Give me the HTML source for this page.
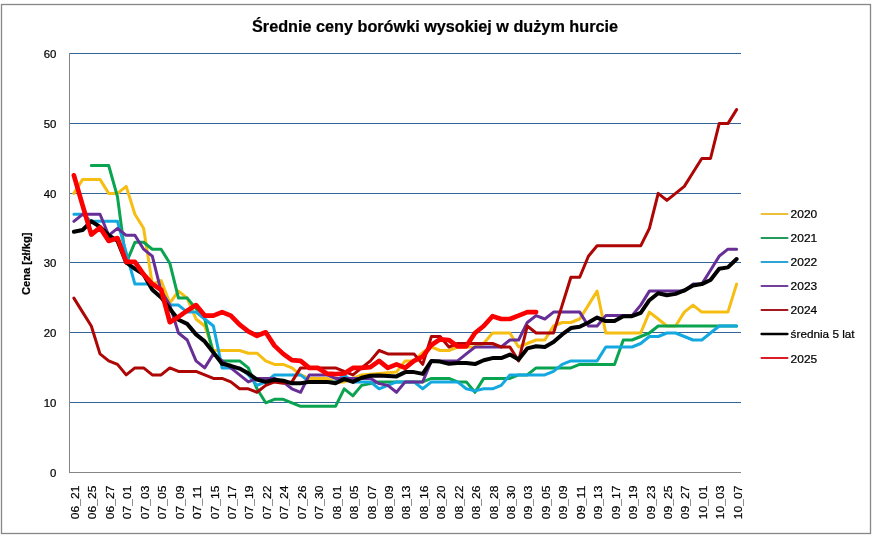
<!DOCTYPE html>
<html lang="pl"><head><meta charset="utf-8"><title>Średnie ceny borówki wysokiej w dużym hurcie</title>
<style>html,body{margin:0;padding:0;background:#fff}svg{display:block}text{font-family:"Liberation Sans", sans-serif;fill:#000;stroke:#000;stroke-width:0.22px}</style></head><body>
<svg width="872" height="537" viewBox="0 0 872 537">
<rect x="0" y="0" width="872" height="537" fill="#fff"/>
<rect x="1.5" y="4.5" width="869" height="529" fill="#fff" stroke="#868686" stroke-width="1.3"/>
<rect x="69" y="53" width="672" height="1" fill="#31659A" shape-rendering="crispEdges"/>
<rect x="69" y="123" width="672" height="1" fill="#31659A" shape-rendering="crispEdges"/>
<rect x="69" y="193" width="672" height="1" fill="#31659A" shape-rendering="crispEdges"/>
<rect x="69" y="262" width="672" height="1" fill="#31659A" shape-rendering="crispEdges"/>
<rect x="69" y="332" width="672" height="1" fill="#31659A" shape-rendering="crispEdges"/>
<rect x="69" y="402" width="672" height="1" fill="#31659A" shape-rendering="crispEdges"/>
<rect x="69" y="53" width="1" height="420" fill="#868686" shape-rendering="crispEdges"/>
<rect x="69" y="472" width="672" height="1" fill="#868686" shape-rendering="crispEdges"/>
<polyline fill="none" stroke="#F6BE12" stroke-width="3.0" stroke-linejoin="round" stroke-linecap="round" points="73.9,193.4 82.6,179.4 91.3,179.4 100.0,179.4 108.7,193.4 117.5,193.4 126.2,186.4 134.9,214.3 143.6,228.3 152.3,284.1 161.1,280.6 169.8,303.0 178.5,291.1 187.2,298.1 196.0,319.0 204.7,326.0 213.4,350.5 222.1,350.5 230.8,350.5 239.6,350.5 248.3,353.2 257.0,353.2 265.7,360.9 274.4,364.4 283.2,364.4 291.9,367.9 300.6,374.9 309.3,378.4 318.0,378.4 326.8,378.4 335.5,381.9 344.2,381.9 352.9,378.4 361.6,374.9 370.4,374.2 379.1,373.5 387.8,372.8 396.5,372.1 405.2,360.9 414.0,360.9 422.7,352.5 431.4,347.0 440.1,350.5 448.9,350.5 457.6,347.0 466.3,347.0 475.0,347.0 483.7,343.5 492.5,333.0 501.2,333.0 509.9,333.0 518.6,347.0 527.3,343.5 536.1,340.0 544.8,340.0 553.5,326.0 562.2,322.5 570.9,322.5 579.7,319.0 588.4,305.1 597.1,291.1 605.8,333.0 614.5,333.0 623.3,333.0 632.0,333.0 640.7,333.0 649.4,312.1 658.2,319.0 666.9,326.0 675.6,326.0 684.3,312.1 693.0,305.1 701.8,312.1 710.5,312.1 719.2,312.1 727.9,312.1 736.6,284.1"/>
<polyline fill="none" stroke="#0AA350" stroke-width="3.0" stroke-linejoin="round" stroke-linecap="round" points="91.3,165.5 100.0,165.5 108.7,165.5 117.5,196.9 126.2,263.2 134.9,242.3 143.6,242.3 152.3,249.2 161.1,249.2 169.8,263.2 178.5,298.1 187.2,298.1 196.0,308.6 204.7,319.0 213.4,353.9 222.1,360.9 230.8,360.9 239.6,360.9 248.3,367.9 257.0,388.8 265.7,402.8 274.4,399.3 283.2,399.3 291.9,402.8 300.6,406.3 309.3,406.3 318.0,406.3 326.8,406.3 335.5,406.3 344.2,388.8 352.9,395.8 361.6,385.4 370.4,383.6 379.1,381.9 387.8,381.9 396.5,381.9 405.2,381.9 414.0,381.9 422.7,381.9 431.4,378.4 440.1,378.4 448.9,378.4 457.6,381.9 466.3,381.9 475.0,392.3 483.7,378.4 492.5,378.4 501.2,378.4 509.9,378.4 518.6,374.9 527.3,374.9 536.1,367.9 544.8,367.9 553.5,367.9 562.2,367.9 570.9,367.9 579.7,364.4 588.4,364.4 597.1,364.4 605.8,364.4 614.5,364.4 623.3,340.0 632.0,340.0 640.7,336.5 649.4,333.0 658.2,326.0 666.9,326.0 675.6,326.0 684.3,326.0 693.0,326.0 701.8,326.0 710.5,326.0 719.2,326.0 727.9,326.0 736.6,326.0"/>
<polyline fill="none" stroke="#14A8E0" stroke-width="3.0" stroke-linejoin="round" stroke-linecap="round" points="73.9,214.3 82.6,214.3 91.3,221.3 100.0,221.3 108.7,221.3 117.5,221.3 126.2,252.7 134.9,284.1 143.6,284.1 152.3,284.1 161.1,291.1 169.8,305.1 178.5,305.1 187.2,312.1 196.0,312.1 204.7,319.0 213.4,326.0 222.1,367.9 230.8,367.9 239.6,367.9 248.3,374.9 257.0,385.4 265.7,381.9 274.4,374.9 283.2,374.9 291.9,374.9 300.6,374.9 309.3,381.9 318.0,381.9 326.8,381.9 335.5,381.9 344.2,374.9 352.9,381.9 361.6,381.9 370.4,381.9 379.1,388.8 387.8,385.4 396.5,381.9 405.2,381.9 414.0,381.9 422.7,388.8 431.4,381.9 440.1,381.9 448.9,381.9 457.6,381.9 466.3,388.8 475.0,390.9 483.7,388.8 492.5,388.8 501.2,385.4 509.9,374.9 518.6,374.9 527.3,374.9 536.1,374.9 544.8,374.9 553.5,371.4 562.2,364.4 570.9,360.9 579.7,360.9 588.4,360.9 597.1,360.9 605.8,347.0 614.5,347.0 623.3,347.0 632.0,347.0 640.7,343.5 649.4,336.5 658.2,336.5 666.9,333.0 675.6,333.0 684.3,336.5 693.0,340.0 701.8,340.0 710.5,333.0 719.2,326.0 727.9,326.0 736.6,326.0"/>
<polyline fill="none" stroke="#672E96" stroke-width="3.0" stroke-linejoin="round" stroke-linecap="round" points="73.9,221.3 82.6,214.3 91.3,214.3 100.0,214.3 108.7,235.3 117.5,228.3 126.2,235.3 134.9,235.3 143.6,249.2 152.3,256.2 161.1,291.1 169.8,305.1 178.5,333.0 187.2,340.0 196.0,360.9 204.7,367.9 213.4,353.9 222.1,360.9 230.8,367.9 239.6,374.9 248.3,381.9 257.0,378.4 265.7,378.4 274.4,378.4 283.2,381.9 291.9,388.8 300.6,392.3 309.3,374.9 318.0,374.9 326.8,374.9 335.5,378.4 344.2,378.4 352.9,378.4 361.6,378.4 370.4,378.4 379.1,383.6 387.8,385.4 396.5,392.3 405.2,381.9 414.0,381.9 422.7,381.9 431.4,360.9 440.1,360.9 448.9,360.9 457.6,360.9 466.3,353.9 475.0,347.0 483.7,347.0 492.5,347.0 501.2,347.0 509.9,340.0 518.6,340.0 527.3,322.5 536.1,315.6 544.8,319.0 553.5,312.1 562.2,312.1 570.9,312.1 579.7,312.1 588.4,326.0 597.1,326.0 605.8,315.6 614.5,315.6 623.3,315.6 632.0,315.6 640.7,305.1 649.4,291.1 658.2,291.1 666.9,291.1 675.6,291.1 684.3,291.1 693.0,284.1 701.8,284.1 710.5,270.2 719.2,256.2 727.9,249.2 736.6,249.2"/>
<polyline fill="none" stroke="#AE0505" stroke-width="3.0" stroke-linejoin="round" stroke-linecap="round" points="73.9,298.1 82.6,312.1 91.3,326.0 100.0,353.9 108.7,360.9 117.5,364.4 126.2,374.9 134.9,367.9 143.6,367.9 152.3,374.9 161.1,374.9 169.8,367.9 178.5,371.4 187.2,371.4 196.0,371.4 204.7,374.9 213.4,378.4 222.1,378.4 230.8,381.9 239.6,388.8 248.3,388.8 257.0,392.3 265.7,385.4 274.4,381.9 283.2,383.3 291.9,381.9 300.6,367.9 309.3,367.9 318.0,367.9 326.8,367.9 335.5,367.9 344.2,371.4 352.9,374.9 361.6,367.9 370.4,360.9 379.1,350.5 387.8,353.9 396.5,353.9 405.2,353.9 414.0,353.9 422.7,364.4 431.4,336.5 440.1,336.5 448.9,347.0 457.6,343.5 466.3,343.5 475.0,343.5 483.7,343.5 492.5,343.5 501.2,347.0 509.9,347.0 518.6,360.9 527.3,326.0 536.1,333.0 544.8,333.0 553.5,333.0 562.2,305.1 570.9,277.2 579.7,277.2 588.4,256.2 597.1,245.8 605.8,245.8 614.5,245.8 623.3,245.8 632.0,245.8 640.7,245.8 649.4,228.3 658.2,193.4 666.9,200.4 675.6,193.4 684.3,186.4 693.0,172.5 701.8,158.5 710.5,158.5 719.2,123.6 727.9,123.6 736.6,109.6"/>
<polyline fill="none" stroke="#000000" stroke-width="4.0" stroke-linejoin="round" stroke-linecap="round" points="73.9,231.8 82.6,230.0 91.3,221.3 100.0,226.9 108.7,235.3 117.5,240.9 126.2,262.5 134.9,268.8 143.6,274.4 152.3,289.7 161.1,297.4 169.8,308.8 178.5,319.7 187.2,323.9 196.0,334.4 204.7,341.4 213.4,352.5 222.1,363.7 230.8,365.8 239.6,368.6 248.3,373.3 257.0,379.6 265.7,381.9 274.4,379.8 283.2,380.7 291.9,383.3 300.6,383.3 309.3,381.9 318.0,381.9 326.8,381.9 335.5,383.3 344.2,379.1 352.9,381.9 361.6,377.7 370.4,375.8 379.1,375.6 387.8,375.9 396.5,376.4 405.2,372.1 414.0,372.1 422.7,373.9 431.4,360.9 440.1,361.6 448.9,363.7 457.6,363.0 466.3,363.0 475.0,364.1 483.7,360.2 492.5,358.1 501.2,358.1 509.9,354.6 518.6,359.5 527.3,348.4 536.1,346.3 544.8,347.0 553.5,342.1 562.2,334.4 570.9,328.1 579.7,326.7 588.4,322.5 597.1,317.6 605.8,321.1 614.5,321.1 623.3,316.2 632.0,316.2 640.7,312.8 649.4,300.2 658.2,293.2 666.9,295.3 675.6,293.9 684.3,290.4 693.0,285.5 701.8,284.1 710.5,280.0 719.2,268.8 727.9,267.4 736.6,259.0"/>
<polyline fill="none" stroke="#FB0000" stroke-width="4.7" stroke-linejoin="round" stroke-linecap="round" points="73.9,175.3 82.6,205.3 91.3,234.6 100.0,227.6 108.7,240.9 117.5,238.1 126.2,261.8 134.9,261.8 143.6,274.4 152.3,284.1 161.1,289.7 169.8,322.2 178.5,316.9 187.2,310.7 196.0,305.1 204.7,315.6 213.4,315.6 222.1,312.1 230.8,315.6 239.6,324.6 248.3,331.3 257.0,335.8 265.7,332.3 274.4,345.6 283.2,353.9 291.9,360.2 300.6,360.9 309.3,367.9 318.0,367.9 326.8,373.5 335.5,374.2 344.2,373.5 352.9,367.9 361.6,367.9 370.4,367.2 379.1,360.9 387.8,367.9 396.5,364.4 405.2,367.9 414.0,360.9 422.7,356.7 431.4,344.9 440.1,339.3 448.9,340.0 457.6,346.3 466.3,346.3 475.0,333.0 483.7,326.0 492.5,316.2 501.2,319.0 509.9,319.0 518.6,315.6 527.3,312.1 536.1,312.1"/>
<text x="435.0" y="31.6" text-anchor="middle" font-size="16.6" font-weight="bold" textLength="366" lengthAdjust="spacingAndGlyphs">Średnie ceny borówki wysokiej w dużym hurcie</text>
<text x="56.4" y="476.8" text-anchor="end" font-size="11.4">0</text>
<text x="56.4" y="407.0" text-anchor="end" font-size="11.4">10</text>
<text x="56.4" y="337.2" text-anchor="end" font-size="11.4">20</text>
<text x="56.4" y="267.4" text-anchor="end" font-size="11.4">30</text>
<text x="56.4" y="197.6" text-anchor="end" font-size="11.4">40</text>
<text x="56.4" y="127.8" text-anchor="end" font-size="11.4">50</text>
<text x="56.4" y="58.0" text-anchor="end" font-size="11.4">60</text>
<text transform="translate(29.6,263.8) rotate(-90)" text-anchor="middle" font-size="11.4" font-weight="bold" textLength="62.6" lengthAdjust="spacingAndGlyphs">Cena [zł/kg]</text>
<text transform="translate(79.0,519.2) rotate(-90)" font-size="11.6" textLength="33.6" lengthAdjust="spacingAndGlyphs">06<tspan fill="#666" stroke="none">_</tspan>21</text>
<text transform="translate(96.4,519.2) rotate(-90)" font-size="11.6" textLength="33.6" lengthAdjust="spacingAndGlyphs">06<tspan fill="#666" stroke="none">_</tspan>25</text>
<text transform="translate(113.8,519.2) rotate(-90)" font-size="11.6" textLength="33.6" lengthAdjust="spacingAndGlyphs">06<tspan fill="#666" stroke="none">_</tspan>27</text>
<text transform="translate(131.3,519.2) rotate(-90)" font-size="11.6" textLength="33.6" lengthAdjust="spacingAndGlyphs">07<tspan fill="#666" stroke="none">_</tspan>01</text>
<text transform="translate(148.7,519.2) rotate(-90)" font-size="11.6" textLength="33.6" lengthAdjust="spacingAndGlyphs">07<tspan fill="#666" stroke="none">_</tspan>03</text>
<text transform="translate(166.2,519.2) rotate(-90)" font-size="11.6" textLength="33.6" lengthAdjust="spacingAndGlyphs">07<tspan fill="#666" stroke="none">_</tspan>05</text>
<text transform="translate(183.6,519.2) rotate(-90)" font-size="11.6" textLength="33.6" lengthAdjust="spacingAndGlyphs">07<tspan fill="#666" stroke="none">_</tspan>09</text>
<text transform="translate(201.1,519.2) rotate(-90)" font-size="11.6" textLength="33.6" lengthAdjust="spacingAndGlyphs">07<tspan fill="#666" stroke="none">_</tspan>11</text>
<text transform="translate(218.5,519.2) rotate(-90)" font-size="11.6" textLength="33.6" lengthAdjust="spacingAndGlyphs">07<tspan fill="#666" stroke="none">_</tspan>15</text>
<text transform="translate(235.9,519.2) rotate(-90)" font-size="11.6" textLength="33.6" lengthAdjust="spacingAndGlyphs">07<tspan fill="#666" stroke="none">_</tspan>17</text>
<text transform="translate(253.4,519.2) rotate(-90)" font-size="11.6" textLength="33.6" lengthAdjust="spacingAndGlyphs">07<tspan fill="#666" stroke="none">_</tspan>19</text>
<text transform="translate(270.8,519.2) rotate(-90)" font-size="11.6" textLength="33.6" lengthAdjust="spacingAndGlyphs">07<tspan fill="#666" stroke="none">_</tspan>22</text>
<text transform="translate(288.3,519.2) rotate(-90)" font-size="11.6" textLength="33.6" lengthAdjust="spacingAndGlyphs">07<tspan fill="#666" stroke="none">_</tspan>24</text>
<text transform="translate(305.7,519.2) rotate(-90)" font-size="11.6" textLength="33.6" lengthAdjust="spacingAndGlyphs">07<tspan fill="#666" stroke="none">_</tspan>26</text>
<text transform="translate(323.1,519.2) rotate(-90)" font-size="11.6" textLength="33.6" lengthAdjust="spacingAndGlyphs">07<tspan fill="#666" stroke="none">_</tspan>30</text>
<text transform="translate(340.6,519.2) rotate(-90)" font-size="11.6" textLength="33.6" lengthAdjust="spacingAndGlyphs">08<tspan fill="#666" stroke="none">_</tspan>01</text>
<text transform="translate(358.0,519.2) rotate(-90)" font-size="11.6" textLength="33.6" lengthAdjust="spacingAndGlyphs">08<tspan fill="#666" stroke="none">_</tspan>05</text>
<text transform="translate(375.5,519.2) rotate(-90)" font-size="11.6" textLength="33.6" lengthAdjust="spacingAndGlyphs">08<tspan fill="#666" stroke="none">_</tspan>07</text>
<text transform="translate(392.9,519.2) rotate(-90)" font-size="11.6" textLength="33.6" lengthAdjust="spacingAndGlyphs">08<tspan fill="#666" stroke="none">_</tspan>09</text>
<text transform="translate(410.4,519.2) rotate(-90)" font-size="11.6" textLength="33.6" lengthAdjust="spacingAndGlyphs">08<tspan fill="#666" stroke="none">_</tspan>13</text>
<text transform="translate(427.8,519.2) rotate(-90)" font-size="11.6" textLength="33.6" lengthAdjust="spacingAndGlyphs">08<tspan fill="#666" stroke="none">_</tspan>16</text>
<text transform="translate(445.2,519.2) rotate(-90)" font-size="11.6" textLength="33.6" lengthAdjust="spacingAndGlyphs">08<tspan fill="#666" stroke="none">_</tspan>20</text>
<text transform="translate(462.7,519.2) rotate(-90)" font-size="11.6" textLength="33.6" lengthAdjust="spacingAndGlyphs">08<tspan fill="#666" stroke="none">_</tspan>22</text>
<text transform="translate(480.1,519.2) rotate(-90)" font-size="11.6" textLength="33.6" lengthAdjust="spacingAndGlyphs">08<tspan fill="#666" stroke="none">_</tspan>26</text>
<text transform="translate(497.6,519.2) rotate(-90)" font-size="11.6" textLength="33.6" lengthAdjust="spacingAndGlyphs">08<tspan fill="#666" stroke="none">_</tspan>28</text>
<text transform="translate(515.0,519.2) rotate(-90)" font-size="11.6" textLength="33.6" lengthAdjust="spacingAndGlyphs">08<tspan fill="#666" stroke="none">_</tspan>30</text>
<text transform="translate(532.4,519.2) rotate(-90)" font-size="11.6" textLength="33.6" lengthAdjust="spacingAndGlyphs">09<tspan fill="#666" stroke="none">_</tspan>03</text>
<text transform="translate(549.9,519.2) rotate(-90)" font-size="11.6" textLength="33.6" lengthAdjust="spacingAndGlyphs">09<tspan fill="#666" stroke="none">_</tspan>05</text>
<text transform="translate(567.3,519.2) rotate(-90)" font-size="11.6" textLength="33.6" lengthAdjust="spacingAndGlyphs">09<tspan fill="#666" stroke="none">_</tspan>09</text>
<text transform="translate(584.8,519.2) rotate(-90)" font-size="11.6" textLength="33.6" lengthAdjust="spacingAndGlyphs">09<tspan fill="#666" stroke="none">_</tspan>11</text>
<text transform="translate(602.2,519.2) rotate(-90)" font-size="11.6" textLength="33.6" lengthAdjust="spacingAndGlyphs">09<tspan fill="#666" stroke="none">_</tspan>13</text>
<text transform="translate(619.6,519.2) rotate(-90)" font-size="11.6" textLength="33.6" lengthAdjust="spacingAndGlyphs">09<tspan fill="#666" stroke="none">_</tspan>17</text>
<text transform="translate(637.1,519.2) rotate(-90)" font-size="11.6" textLength="33.6" lengthAdjust="spacingAndGlyphs">09<tspan fill="#666" stroke="none">_</tspan>19</text>
<text transform="translate(654.5,519.2) rotate(-90)" font-size="11.6" textLength="33.6" lengthAdjust="spacingAndGlyphs">09<tspan fill="#666" stroke="none">_</tspan>23</text>
<text transform="translate(672.0,519.2) rotate(-90)" font-size="11.6" textLength="33.6" lengthAdjust="spacingAndGlyphs">09<tspan fill="#666" stroke="none">_</tspan>25</text>
<text transform="translate(689.4,519.2) rotate(-90)" font-size="11.6" textLength="33.6" lengthAdjust="spacingAndGlyphs">09<tspan fill="#666" stroke="none">_</tspan>27</text>
<text transform="translate(706.9,519.2) rotate(-90)" font-size="11.6" textLength="33.6" lengthAdjust="spacingAndGlyphs">10<tspan fill="#666" stroke="none">_</tspan>01</text>
<text transform="translate(724.3,519.2) rotate(-90)" font-size="11.6" textLength="33.6" lengthAdjust="spacingAndGlyphs">10<tspan fill="#666" stroke="none">_</tspan>03</text>
<text transform="translate(741.7,519.2) rotate(-90)" font-size="11.6" textLength="33.6" lengthAdjust="spacingAndGlyphs">10<tspan fill="#666" stroke="none">_</tspan>07</text>
<line x1="761.5" y1="214.0" x2="787.5" y2="214.0" stroke="#EDC03C" stroke-width="2.0" stroke-linecap="round"/>
<text x="790.6" y="217.8" font-size="11.6" textLength="26.6" lengthAdjust="spacingAndGlyphs">2020</text>
<line x1="761.5" y1="238.0" x2="787.5" y2="238.0" stroke="#239A5A" stroke-width="2.0" stroke-linecap="round"/>
<text x="790.6" y="241.9" font-size="11.6" textLength="26.6" lengthAdjust="spacingAndGlyphs">2021</text>
<line x1="761.5" y1="262.0" x2="787.5" y2="262.0" stroke="#2CA4D4" stroke-width="2.0" stroke-linecap="round"/>
<text x="790.6" y="266.0" font-size="11.6" textLength="26.6" lengthAdjust="spacingAndGlyphs">2022</text>
<line x1="761.5" y1="286.0" x2="787.5" y2="286.0" stroke="#74409E" stroke-width="2.0" stroke-linecap="round"/>
<text x="790.6" y="290.1" font-size="11.6" textLength="26.6" lengthAdjust="spacingAndGlyphs">2023</text>
<line x1="761.5" y1="310.0" x2="787.5" y2="310.0" stroke="#A41820" stroke-width="2.0" stroke-linecap="round"/>
<text x="790.6" y="314.2" font-size="11.6" textLength="26.6" lengthAdjust="spacingAndGlyphs">2024</text>
<line x1="761.5" y1="334.0" x2="787.5" y2="334.0" stroke="#000000" stroke-width="2.3" stroke-linecap="round"/>
<text x="790.6" y="338.3" font-size="11.6" textLength="64" lengthAdjust="spacingAndGlyphs">średnia 5 lat</text>
<line x1="761.5" y1="358.0" x2="787.5" y2="358.0" stroke="#DC1C24" stroke-width="2.0" stroke-linecap="round"/>
<text x="790.6" y="362.5" font-size="11.6" textLength="26.6" lengthAdjust="spacingAndGlyphs">2025</text>
</svg></body></html>
